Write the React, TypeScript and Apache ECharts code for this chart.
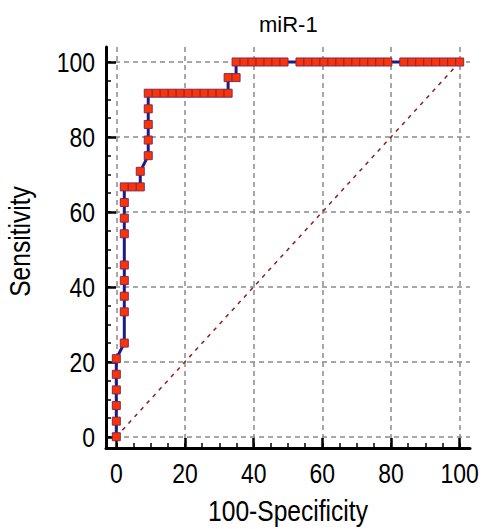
import React, { useEffect, useRef } from "react";
import * as echarts from "echarts";

const chartTitle = "miR-1";
const xAxisName = "100-Specificity";
const yAxisName = "Sensitivity";
const majorTicks = [0, 20, 40, 60, 80, 100];
const minorTicks = [0, 5, 10, 15, 20, 25, 30, 35, 40, 45, 50, 55, 60, 65, 70, 75, 80, 85, 90, 95, 100];

// ROC points: 100-Specificity (x) and Sensitivity (y)
const fpr = [
  0, 0, 0, 0, 0, 0,
  2.33, 2.33, 2.33, 2.33, 2.33, 2.33, 2.33, 2.33, 2.33,
  4.65, 6.98, 6.98,
  9.3, 9.3, 9.3, 9.3, 9.3,
  11.63, 13.95, 16.28, 18.6, 20.93, 23.26, 25.58, 27.91, 30.23, 32.56,
  32.56, 34.88,
  34.88, 37.21, 39.53, 41.86, 44.19, 46.51, 48.84,
  53.49, 55.81, 58.14, 60.47, 62.79, 65.12, 67.44, 69.77, 72.09, 74.42, 76.74, 79.07,
  83.72, 86.05, 88.37, 90.7, 93.02, 95.35, 97.67, 100,
];
const sens = [
  0, 4.17, 8.33, 12.5, 16.67, 20.83,
  25, 33.33, 37.5, 41.67, 45.83, 54.17, 58.33, 62.5, 66.67,
  66.67, 66.67, 70.83,
  75, 79.17, 83.33, 87.5, 91.67,
  91.67, 91.67, 91.67, 91.67, 91.67, 91.67, 91.67, 91.67, 91.67, 91.67,
  95.83, 95.83,
  100, 100, 100, 100, 100, 100, 100,
  100, 100, 100, 100, 100, 100, 100, 100, 100, 100, 100, 100,
  100, 100, 100, 100, 100, 100, 100, 100,
];
const diagX = [0, 100];
const diagY = [0, 100];

const FONT = '"Liberation Sans", Arial, sans-serif';
const SQUEEZE = 0.82; // the reference uses a narrow face for axis texts

export default function App() {
  const ref = useRef<HTMLDivElement>(null);
  useEffect(() => {
    if (!ref.current) return;
    const chart = echarts.init(ref.current, null, { renderer: "svg" });
    const mainAxisCommon = {
      type: "value",
      min: -3,
      axisLine: { show: true, onZero: false, lineStyle: { color: "#000", width: 3 } },
      axisTick: { show: true, inside: true, length: 10, customValues: majorTicks, lineStyle: { color: "#000", width: 2.5 } },
      splitLine: { show: true, lineStyle: { color: "#8a8a8a", width: 1.5, type: [5, 4] } },
      nameLocation: "middle",
      nameMoveOverlap: false,
    };
    const minorAxisCommon = {
      type: "value",
      min: -3,
      axisLine: { show: false, onZero: false },
      axisTick: { show: true, inside: true, length: 5, customValues: minorTicks, lineStyle: { color: "#000", width: 1.5 } },
      axisLabel: { show: false },
      splitLine: { show: false },
    };
    const option: any = {
      animation: false,
      backgroundColor: "#fff",
      title: {
        text: chartTitle,
        left: 254,
        top: 8,
        textStyle: { fontSize: 22, fontWeight: "normal", fontFamily: FONT, color: "#000" },
      },
      grid: { left: 106, right: 12, top: 47, bottom: 81, containLabel: false, outerBoundsMode: "none" },
      xAxis: [
        {
          ...mainAxisCommon,
          max: 103,
          position: "bottom",
          name: xAxisName,
          nameGap: 48,
          nameTextStyle: { fontSize: 30, fontFamily: FONT, color: "#000" },
          axisLabel: { customValues: majorTicks, margin: 11, fontSize: 28, fontFamily: FONT, color: "#000" },
        },
        { ...minorAxisCommon, max: 103, position: "bottom" },
      ],
      yAxis: [
        {
          ...mainAxisCommon,
          max: 104,
          position: "left",
          name: yAxisName,
          nameGap: 71,
          nameTextStyle: { fontSize: 30, fontFamily: FONT, color: "#000", padding: [0, 0, 0, 12] },
          axisLabel: { customValues: majorTicks, margin: 11, fontSize: 28, fontFamily: FONT, color: "#000", padding: [0, 0, 8, 0] },
        },
        { ...minorAxisCommon, max: 104, position: "left" },
      ],
      series: [
        {
          type: "line",
          data: diagX.map((x, i) => [x, diagY[i]]),
          symbol: "none",
          silent: true,
          z: 1,
          lineStyle: { color: "#8b2020", width: 1.5, type: [4, 5] },
        },
        {
          type: "line",
          data: fpr.map((x, i) => [x, sens[i]]),
          symbol: "rect",
          symbolSize: 8,
          showAllSymbol: true,
          z: 3,
          itemStyle: { color: "#ff3300", borderColor: "#7a2a60", borderWidth: 1 },
          lineStyle: { color: "#1c1c84", width: 3 },
        },
      ],
    };

    const squeeze = () => {
      const svg = ref.current?.querySelector("svg");
      if (!svg) return;
      svg.querySelectorAll("text").forEach((node) => {
        const el = node as SVGTextElement;
        if (el.textContent === chartTitle) return;
        let orig = el.getAttribute("data-orig-transform");
        if (orig === null) {
          orig = el.getAttribute("transform") || "";
          el.setAttribute("data-orig-transform", orig);
        }
        const x = parseFloat(el.getAttribute("x") || "0") || 0;
        const y = parseFloat(el.getAttribute("y") || "0") || 0;
        el.setAttribute(
          "transform",
          `${orig} translate(${x} ${y}) scale(${SQUEEZE} 1) translate(${-x} ${-y})`.trim()
        );
      });
    };

    chart.on("finished", squeeze);
    chart.setOption(option);
    squeeze();
    const t1 = setTimeout(squeeze, 30);
    const t2 = setTimeout(squeeze, 200);
    return () => {
      clearTimeout(t1);
      clearTimeout(t2);
      chart.dispose();
    };
  }, []);
  return (
    <div
      ref={ref}
      style={{ position: "fixed", left: 0, top: 0, width: 482, height: 529, background: "#fff" }}
    />
  );
}
